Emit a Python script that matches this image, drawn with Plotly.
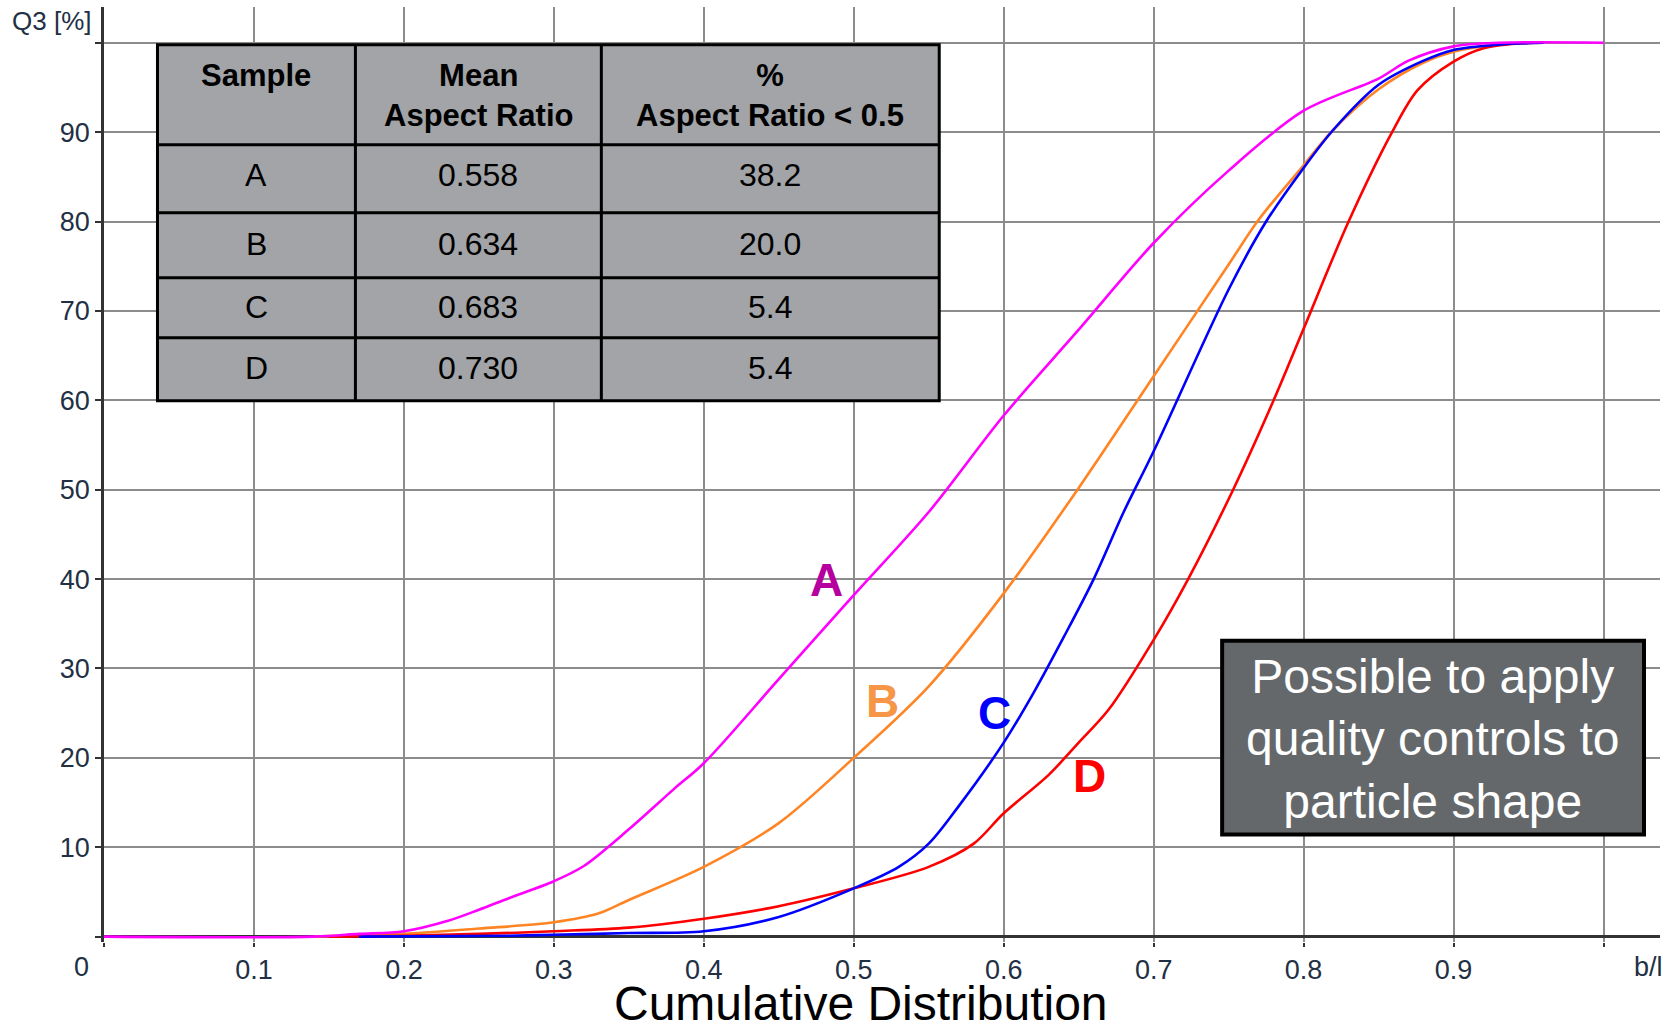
import plotly.graph_objects as go

# ---------------- data ----------------
a_x = [0, 0.14, 0.17, 0.2, 0.23, 0.25, 0.27, 0.3, 0.32, 0.35, 0.38, 0.4, 0.45, 0.5, 0.55, 0.6, 0.65, 0.7, 0.75, 0.8, 0.85, 0.87, 0.9, 0.93, 1.0]
a_y = [0, 0, 0.3, 0.6, 1.8, 3.0, 4.3, 6.2, 7.9, 12.0, 16.5, 19.4, 28.8, 38.2, 47.5, 58.3, 67.9, 77.6, 85.7, 92.4, 96.0, 98.0, 99.6, 100, 100]

b_x = [0.14, 0.2, 0.25, 0.3, 0.33, 0.35, 0.4, 0.45, 0.5, 0.55, 0.6, 0.65, 0.7, 0.75, 0.77, 0.8, 0.82, 0.85, 0.88, 0.9, 0.93, 0.96]
b_y = [0, 0.3, 0.9, 1.6, 2.6, 4.1, 7.8, 12.7, 20.0, 28.0, 38.4, 50.2, 62.7, 75.2, 80.2, 86.3, 90.3, 94.8, 97.8, 99.0, 99.8, 100]

c_x = [0.17, 0.27, 0.3, 0.35, 0.4, 0.45, 0.5, 0.53, 0.55, 0.57, 0.6, 0.62, 0.64, 0.66, 0.68, 0.7, 0.75, 0.775, 0.8, 0.82, 0.85, 0.88, 0.9, 0.93, 0.96]
c_y = [0, 0.1, 0.2, 0.4, 0.6, 2.2, 5.4, 7.8, 10.4, 14.6, 21.7, 27.3, 33.5, 40.0, 47.5, 54.3, 72.4, 80.0, 86.0, 90.3, 95.3, 98.0, 99.2, 99.8, 100]

d_x = [0.15, 0.2, 0.25, 0.3, 0.35, 0.4, 0.45, 0.5, 0.55, 0.58, 0.6, 0.63, 0.65, 0.67, 0.7, 0.723, 0.753, 0.78, 0.8, 0.83, 0.859, 0.876, 0.9, 0.92, 0.95]
d_y = [0, 0.1, 0.3, 0.6, 1.0, 2.0, 3.4, 5.4, 7.8, 10.4, 13.8, 18.1, 21.7, 25.4, 33.2, 40.0, 50.0, 60.0, 68.0, 80.0, 90.0, 94.7, 97.9, 99.4, 100]

samples = ["A", "B", "C", "D"]
mean_aspect = ["0.558", "0.634", "0.683", "0.730"]
pct_below = ["38.2", "20.0", "5.4", "5.4"]
table_headers = ["Sample", "Mean<br>Aspect Ratio", "%<br>Aspect Ratio < 0.5"]

x_tickvals = [0, 0.1, 0.2, 0.3, 0.4, 0.5, 0.6, 0.7, 0.8, 0.9, 1.0]
x_ticktext = ["", "0.1", "0.2", "0.3", "0.4", "0.5", "0.6", "0.7", "0.8", "0.9", ""]
y_tickvals = [0, 10, 20, 30, 40, 50, 60, 70, 80, 90, 100]
y_ticktext = ["", "10", "20", "30", "40", "50", "60", "70", "80", "90", ""]

note_text = "Possible to apply<br>quality controls to<br>particle shape"
x_title = "Cumulative Distribution"

# ---------------- layout helpers (pixel -> data / paper) ----------------
W, H = 1677, 1026
ML, MR, MT, MB = 103.5, 17, 7, 84
PW, PH = W - ML - MR, H - MT - MB
X0PX, XSCALE = 103.5, 1500.0   # x=0 at 103.5 px, 1500 px per unit
Y0PX, YSCALE = 937.0, 8.94     # y=0 at 937 px, 8.94 px per unit


def X(px):
    return (px - X0PX) / XSCALE


def Y(py):
    return (Y0PX - py) / YSCALE


def PX(px):
    return (px - ML) / PW


def PY(py):
    return (H - MB - py) / PH


FONT = "Liberation Sans, Arial, sans-serif"
TICKCOL = "#223044"

fig = go.Figure()

series = [
    (b_x, b_y, "#ff8424"),
    (d_x, d_y, "#ff0000"),
    (c_x, c_y, "#0000ff"),
    (a_x, a_y, "#ff00ff"),
]
for xs, ys, col in series:
    fig.add_trace(go.Scatter(x=xs, y=ys, mode="lines",
                             line=dict(color=col, width=2.6, shape="spline", smoothing=0.9),
                             showlegend=False, hoverinfo="skip"))

shapes = []
annotations = []

# ---- table ----
col_edges = [157, 355, 601, 939]
row_edges = [45, 145, 213, 278, 338, 401]
col_centers = [256, 478, 770]
shapes.append(dict(type="rect", xref="x", yref="y",
                   x0=X(col_edges[0]), x1=X(col_edges[-1]),
                   y0=Y(row_edges[0]), y1=Y(row_edges[-1]),
                   fillcolor="#a2a4a7", line=dict(color="black", width=3), layer="above"))
for cx in col_edges[1:-1]:
    shapes.append(dict(type="line", xref="x", yref="y", x0=X(cx), x1=X(cx),
                       y0=Y(row_edges[0]), y1=Y(row_edges[-1]),
                       line=dict(color="black", width=3), layer="above"))
for ry in row_edges[1:-1]:
    shapes.append(dict(type="line", xref="x", yref="y", x0=X(col_edges[0]), x1=X(col_edges[-1]),
                       y0=Y(ry), y1=Y(ry), line=dict(color="black", width=3), layer="above"))

for i, htxt in enumerate(table_headers):
    annotations.append(dict(xref="x", yref="y", x=X(col_centers[i]), y=Y(56),
                            text="<b>" + htxt + "</b>", showarrow=False, yanchor="top",
                            font=dict(family=FONT, size=31, color="black"), align="center"))

row_centers = [175, 244, 307, 368]
for r in range(len(samples)):
    vals = [samples[r], mean_aspect[r], pct_below[r]]
    for i, v in enumerate(vals):
        annotations.append(dict(xref="x", yref="y", x=X(col_centers[i]), y=Y(row_centers[r]),
                                text=v, showarrow=False,
                                font=dict(family=FONT, size=32, color="black")))

# ---- curve labels ----
curve_labels = [("A", 826, 580, "#b5009f"), ("B", 882, 701, "#f79646"),
                 ("C", 994, 713, "#0000ff"), ("D", 1089, 776, "#ff0000")]
for t, px, py, col in curve_labels:
    annotations.append(dict(xref="x", yref="y", x=X(px), y=Y(py), text="<b>" + t + "</b>",
                            showarrow=False, font=dict(family=FONT, size=46, color=col)))

# ---- note box ----
shapes.append(dict(type="rect", xref="x", yref="y", x0=X(1222), x1=X(1644), y0=Y(641), y1=Y(835),
                   fillcolor="#65686b", line=dict(color="black", width=4), layer="above"))
annotations.append(dict(xref="x", yref="y", x=X(1433), y=Y(739), text=note_text, showarrow=False,
                        font=dict(family=FONT, size=48, color="white"), align="center"))

# ---- axis extra labels ----
extra = [("Q3 [%]", 51, 21, 26, TICKCOL), ("0", 81, 967, 27, TICKCOL),
         ("b/l", 1648, 967, 27, TICKCOL), (x_title, 861, 1003, 48, "black")]
for t, px, py, sz, col in extra:
    annotations.append(dict(xref="paper", yref="paper", x=PX(px), y=PY(py), text=t,
                            xanchor="center", yanchor="middle", showarrow=False,
                            font=dict(family=FONT, size=sz, color=col)))

fig.update_layout(
    width=W, height=H,
    margin=dict(l=ML, r=MR, t=MT, b=MB, pad=0),
    paper_bgcolor="white", plot_bgcolor="white",
    shapes=shapes, annotations=annotations,
    xaxis=dict(range=[0, X(1660)], tickvals=x_tickvals, ticktext=x_ticktext,
               showgrid=True, gridcolor="#8c8c8c", gridwidth=2,
               zeroline=False, showline=False,
               ticks="outside", ticklen=4, tickwidth=2, tickcolor="#333",
               tickfont=dict(family=FONT, size=27, color=TICKCOL)),
    yaxis=dict(range=[Y(942.4), Y(7.2)], tickvals=y_tickvals, ticktext=y_ticktext,
               showgrid=True, gridcolor="#8c8c8c", gridwidth=2,
               zeroline=True, zerolinecolor="#333", zerolinewidth=3,
               showline=True, linecolor="#333", linewidth=2.5,
               ticks="outside", ticklen=6, tickwidth=2, tickcolor="#333",
               tickfont=dict(family=FONT, size=27, color=TICKCOL)),
)

fig.write_html("out.html")
